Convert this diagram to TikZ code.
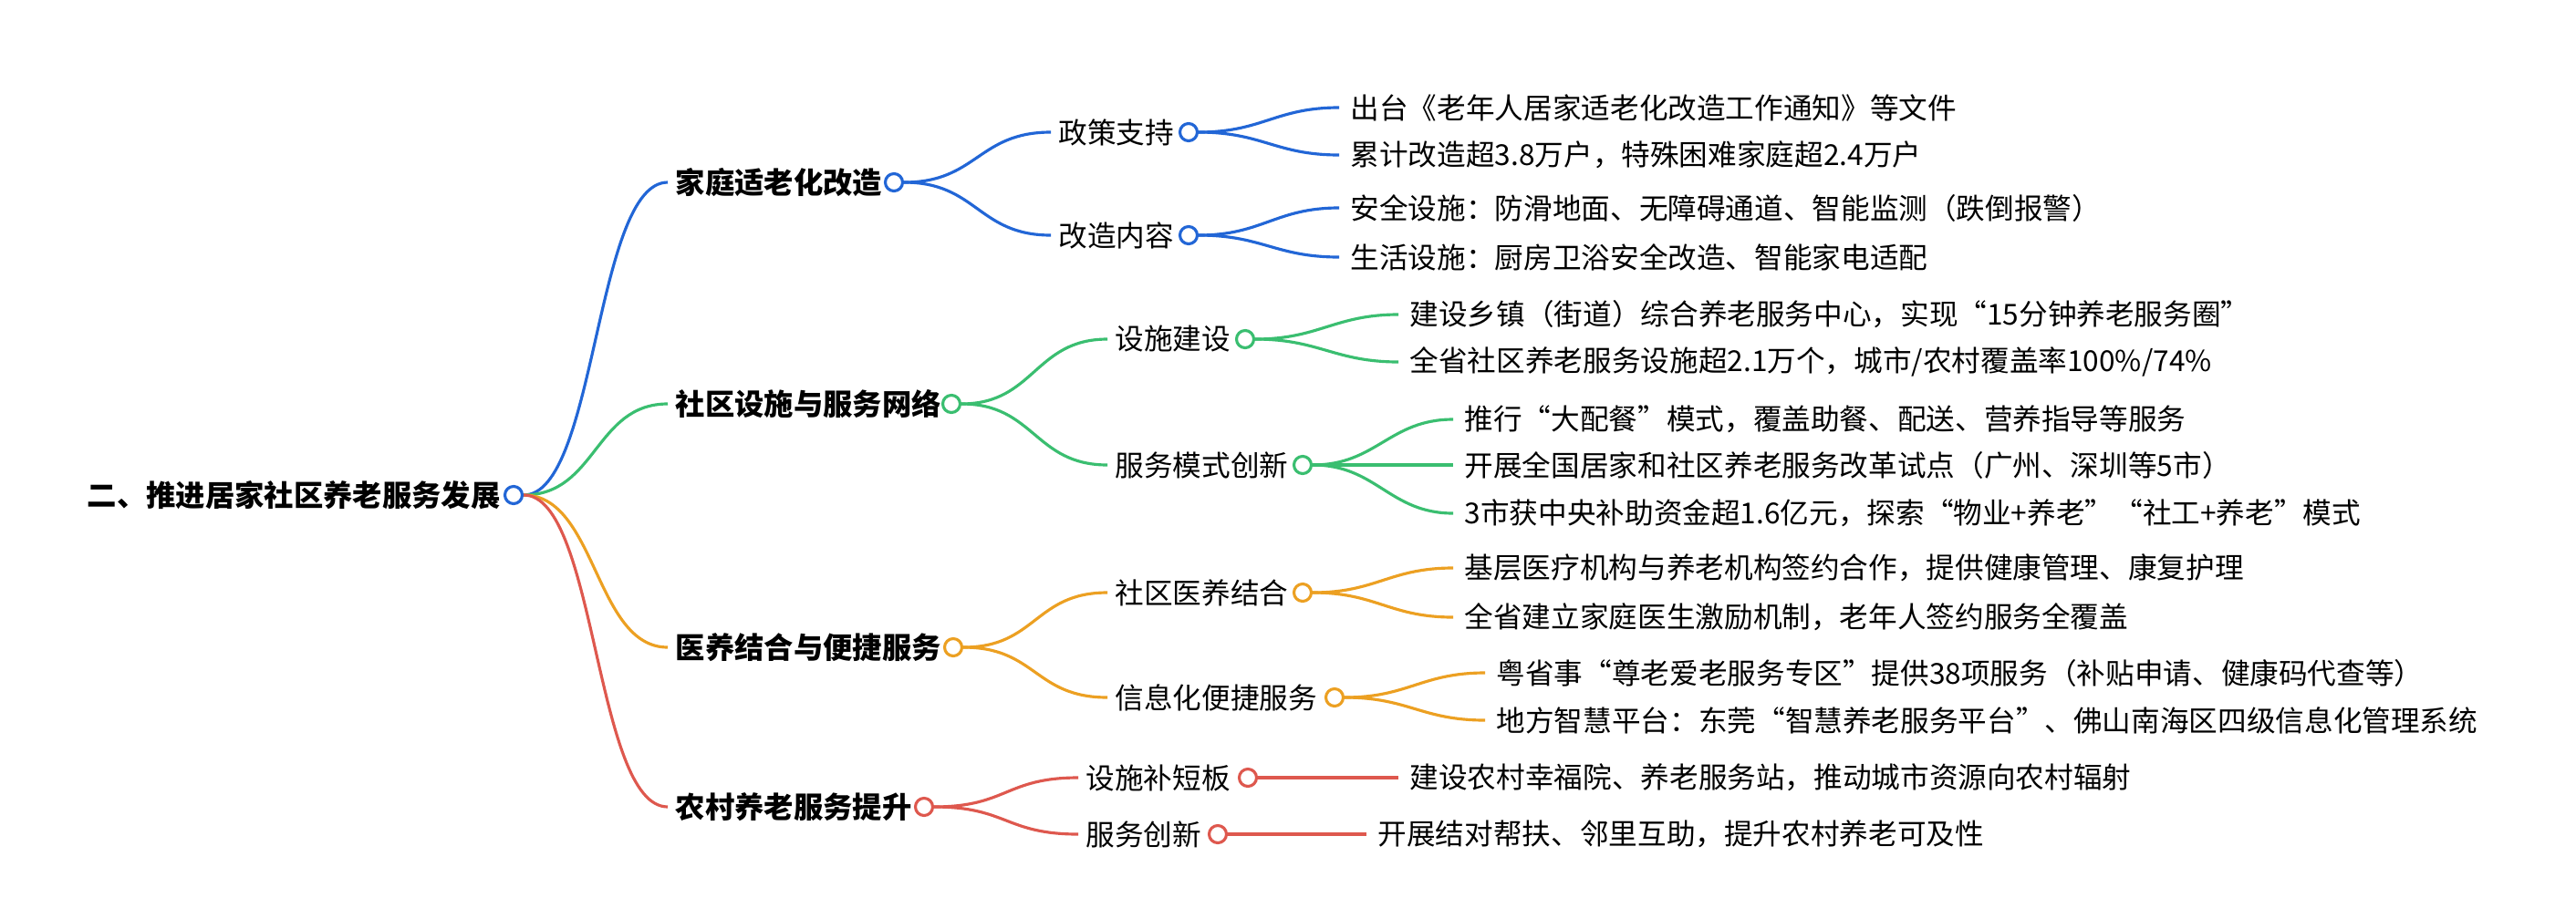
\documentclass[tikz,border=0pt]{standalone}
\usepackage{fontspec}
\newfontfamily\cjk{Noto Sans CJK SC}
\definecolor{mapblue}{RGB}{34,102,214}
\definecolor{mapgreen}{RGB}{58,190,112}
\definecolor{maporange}{RGB}{236,160,34}
\definecolor{mapred}{RGB}{222,88,78}
\usetikzlibrary{positioning}
\tikzset{
  topic/.style={anchor=west,inner sep=0pt,font=\cjk\fontsize{9.2}{11}\selectfont\bfseries},
  sub/.style={anchor=west,inner sep=0pt,font=\cjk\fontsize{9}{11}\selectfont},
  leaf/.style={anchor=west,inner sep=0pt,font=\cjk\fontsize{9}{11}\selectfont},
  knob/.style={circle,draw=#1,fill=white,line width=0.9pt,minimum size=0.19cm,inner sep=0pt},
  link/.style={draw=#1,line width=0.9pt}
}
\begin{document}
\begin{tikzpicture}
\useasboundingbox (0,0) rectangle (28.24,-9.84);
% root
\node[topic] (root) at (0.95,-5.43) {二、推进居家社区养老服务发展};
\node[knob=mapblue] (rootk) at (5.63,-5.43) {};
% level one
\node[topic] (home) at (7.40,-2.00) {家庭适老化改造};
\node[knob=mapblue] (homek) at (9.80,-2.00) {};
\node[topic] (comm) at (7.40,-4.43) {社区设施与服务网络};
\node[knob=mapgreen] (commk) at (10.43,-4.43) {};
\node[topic] (med) at (7.40,-7.10) {医养结合与便捷服务};
\node[knob=maporange] (medk) at (10.45,-7.10) {};
\node[topic] (rural) at (7.40,-8.85) {农村养老服务提升};
\node[knob=mapred] (ruralk) at (10.13,-8.85) {};
% level two
\node[sub] (policy) at (11.60,-1.45) {政策支持};
\node[knob=mapblue] (policyk) at (13.03,-1.45) {};
\node[sub] (content) at (11.60,-2.58) {改造内容};
\node[knob=mapblue] (contentk) at (13.03,-2.58) {};
\node[sub] (build) at (12.22,-3.72) {设施建设};
\node[knob=mapgreen] (buildk) at (13.65,-3.72) {};
\node[sub] (mode) at (12.22,-5.10) {服务模式创新};
\node[knob=mapgreen] (modek) at (14.28,-5.10) {};
\node[sub] (care) at (12.22,-6.50) {社区医养结合};
\node[knob=maporange] (carek) at (14.28,-6.50) {};
\node[sub] (info) at (12.22,-7.65) {信息化便捷服务};
\node[knob=maporange] (infok) at (14.63,-7.65) {};
\node[sub] (gap) at (11.90,-8.53) {设施补短板};
\node[knob=mapred] (gapk) at (13.68,-8.53) {};
\node[sub] (innov) at (11.90,-9.15) {服务创新};
\node[knob=mapred] (innovk) at (13.35,-9.15) {};
% leaves
\node[leaf] (l1) at (14.80,-1.18) {出台《老年人居家适老化改造工作通知》等文件};
\node[leaf] (l2) at (14.80,-1.70) {累计改造超3.8万户，特殊困难家庭超2.4万户};
\node[leaf] (l3) at (14.80,-2.28) {安全设施：防滑地面、无障碍通道、智能监测（跌倒报警）};
\node[leaf] (l4) at (14.80,-2.82) {生活设施：厨房卫浴安全改造、智能家电适配};
\node[leaf] (l5) at (15.45,-3.45) {建设乡镇（街道）综合养老服务中心，实现“15分钟养老服务圈”};
\node[leaf] (l6) at (15.45,-3.97) {全省社区养老服务设施超2.1万个，城市/农村覆盖率100\%/74\%};
\node[leaf] (l7) at (16.05,-4.60) {推行“大配餐”模式，覆盖助餐、配送、营养指导等服务};
\node[leaf] (l8) at (16.05,-5.10) {开展全国居家和社区养老服务改革试点（广州、深圳等5市）};
\node[leaf] (l9) at (16.05,-5.63) {3市获中央补助资金超1.6亿元，探索“物业+养老”“社工+养老”模式};
\node[leaf] (l10) at (16.05,-6.23) {基层医疗机构与养老机构签约合作，提供健康管理、康复护理};
\node[leaf] (l11) at (16.05,-6.77) {全省建立家庭医生激励机制，老年人签约服务全覆盖};
\node[leaf] (l12) at (16.40,-7.38) {粤省事“尊老爱老服务专区”提供38项服务（补贴申请、健康码代查等）};
\node[leaf] (l13) at (16.40,-7.90) {地方智慧平台：东莞“智慧养老服务平台”、佛山南海区四级信息化管理系统};
\node[leaf] (l14) at (15.45,-8.53) {建设农村幸福院、养老服务站，推动城市资源向农村辐射};
\node[leaf] (l15) at (15.10,-9.15) {开展结对帮扶、邻里互助，提升农村养老可及性};
% connectors
\foreach \a/\b/\c in {rootk/home/mapblue,rootk/comm/mapgreen,rootk/med/maporange,rootk/rural/mapred,
  homek/policy/mapblue,homek/content/mapblue,commk/build/mapgreen,commk/mode/mapgreen,
  medk/care/maporange,medk/info/maporange,ruralk/gap/mapred,ruralk/innov/mapred}
  \draw[link=\c] (\a.east) .. controls +(0.8,0) and +(-0.8,0) .. ([xshift=-0.08cm]\b.west);
\foreach \a/\b/\c in {policyk/l1/mapblue,policyk/l2/mapblue,contentk/l3/mapblue,contentk/l4/mapblue,
  buildk/l5/mapgreen,buildk/l6/mapgreen,modek/l7/mapgreen,modek/l8/mapgreen,modek/l9/mapgreen,
  carek/l10/maporange,carek/l11/maporange,infok/l12/maporange,infok/l13/maporange,
  gapk/l14/mapred,innovk/l15/mapred}
  \draw[link=\c] (\a.east) .. controls +(0.7,0) and +(-0.7,0) .. ([xshift=-0.12cm]\b.west);
\end{tikzpicture}
\end{document}
